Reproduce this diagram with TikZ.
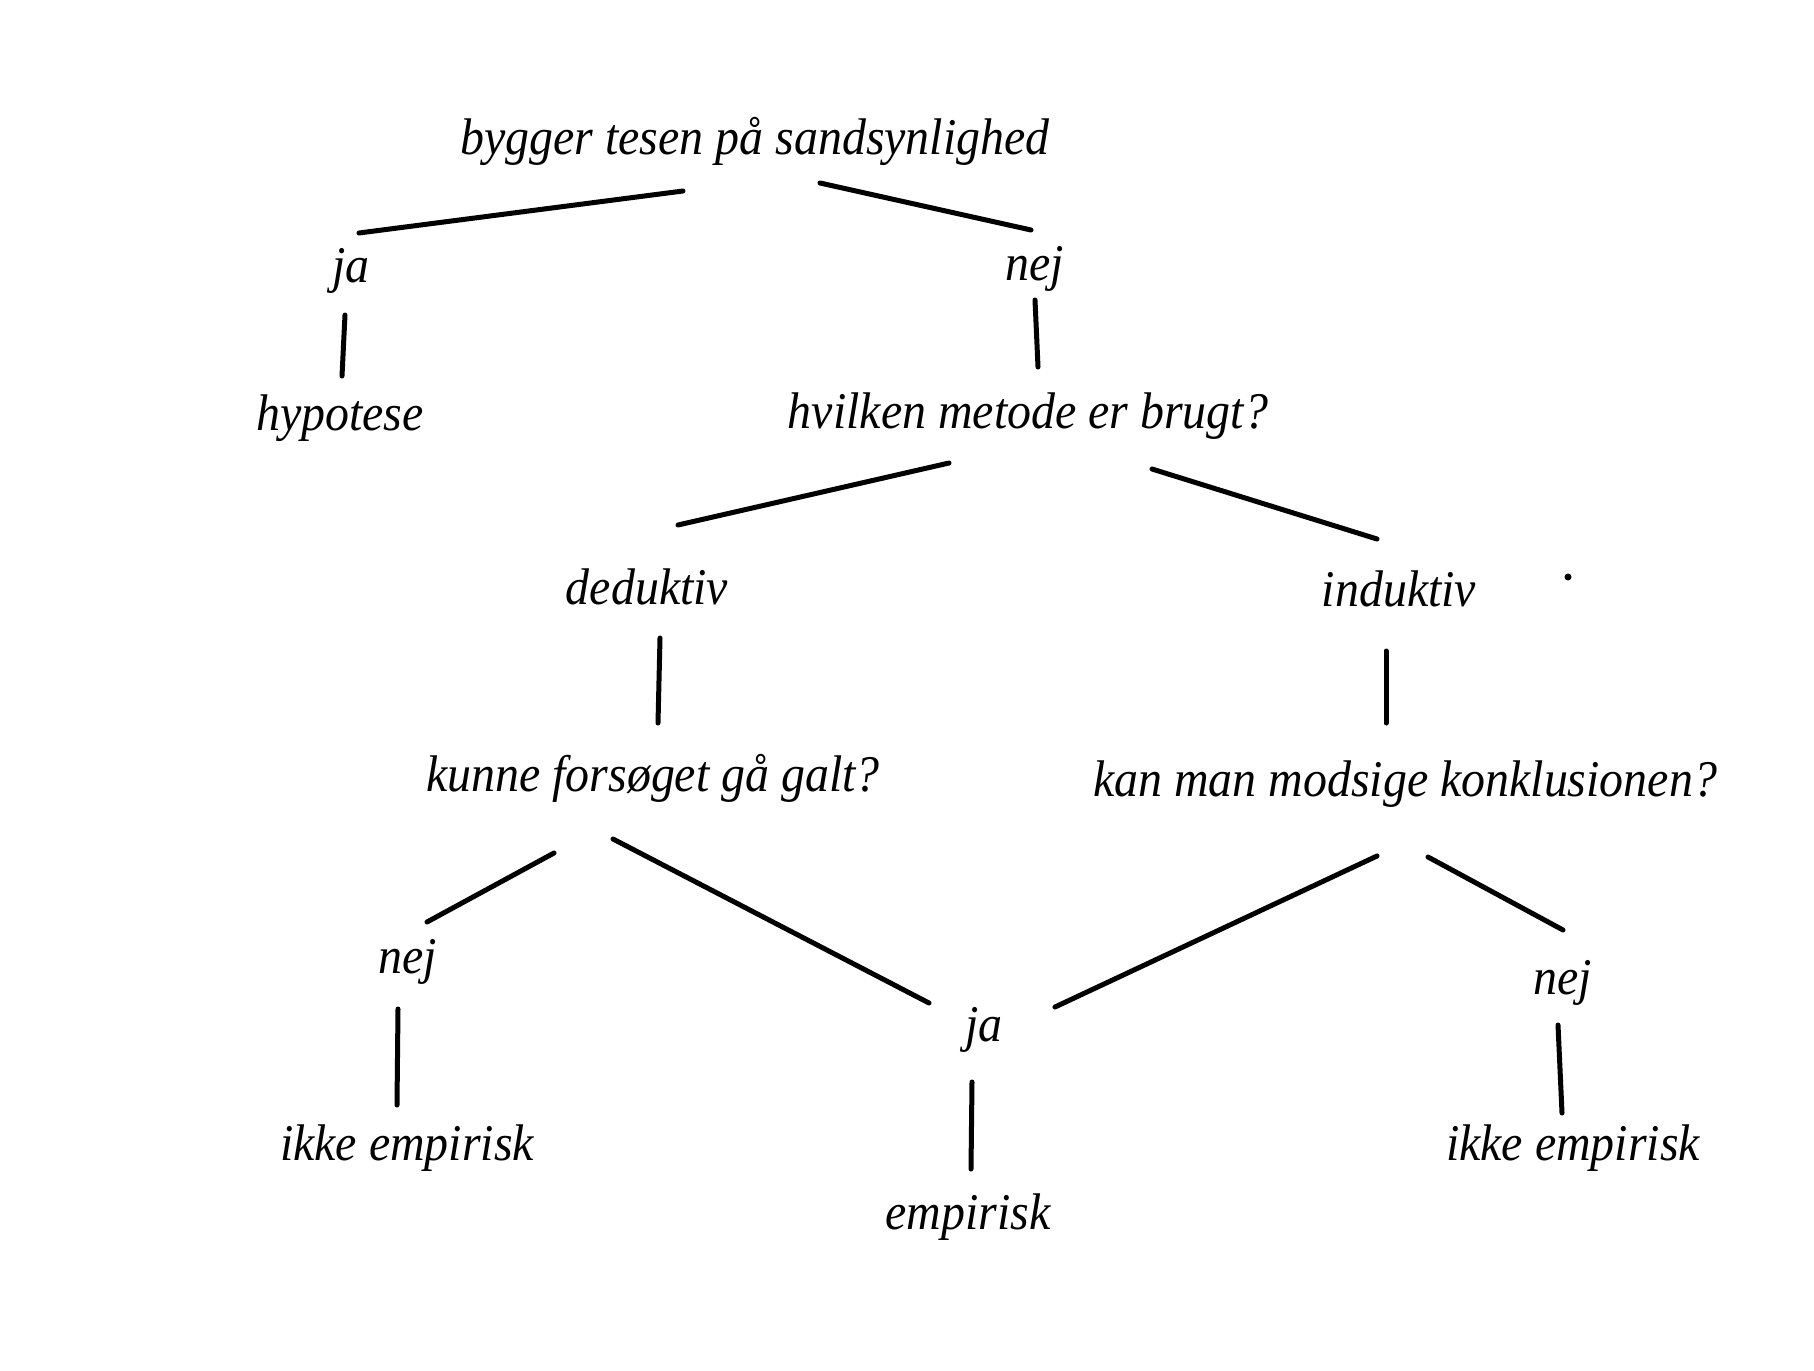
\documentclass[tikz,border=0pt]{standalone}
\usepackage{fontspec}
\setmainfont{Liberation Serif}[ItalicFeatures={FakeStretch=0.93}]
\begin{document}
\begin{tikzpicture}[x=1pt,y=-1pt,
  lbl/.style={anchor=base,inner sep=0pt,font=\fontsize{51.5}{60}\selectfont\itshape},
  br/.style={line width=5pt,line cap=round}]
\useasboundingbox (0,0) rectangle (1814,1370);
% texts
\node[lbl] (root) at (755,154) {bygger tesen på sandsynlighed};
\node[lbl] (ja1) at (351,282) {ja};
\node[lbl] (nej1) at (1035,280) {nej};
\node[lbl] (hyp) at (340,430) {hypotese};
\node[lbl] (metode) at (1028,428) {hvilken metode er brugt?};
\node[lbl] (ded) at (647,604) {deduktiv};
\node[lbl] (ind) at (1399,606) {induktiv};
\node[lbl] (kunne) at (653,791) {kunne forsøget gå galt?};
\node[lbl] (kan) at (1405,796) {kan man modsige konklusionen?};
\node[lbl] (nej2) at (408,973) {nej};
\node[lbl] (ja2) at (984,1041) {ja};
\node[lbl] (nej3) at (1563,994) {nej};
\node[lbl] (ikke1) at (407,1160) {ikke empirisk};
\node[lbl] (emp) at (968,1229) {empirisk};
\node[lbl] (ikke2) at (1573,1160) {ikke empirisk};
\fill (1568,577) circle (3.5);
% connector end points
\coordinate (a1) at (683,191);  \coordinate (b1) at (359,233);
\coordinate (a2) at (820,183);  \coordinate (b2) at (1031,230);
\coordinate (a3) at (345,315);  \coordinate (b3) at (342,376);
\coordinate (a4) at (1035,300); \coordinate (b4) at (1038,367);
\coordinate (a5) at (949,463);  \coordinate (b5) at (678,525);
\coordinate (a6) at (1152,469); \coordinate (b6) at (1377,539);
\coordinate (a7) at (660,638);  \coordinate (b7) at (658,723);
\coordinate (a8) at (1386,651); \coordinate (b8) at (1386,723);
\coordinate (a9) at (554,853);  \coordinate (b9) at (427,922);
\coordinate (a10) at (613,839); \coordinate (b10) at (929,1003);
\coordinate (a11) at (1377,856);\coordinate (b11) at (1055,1007);
\coordinate (a12) at (1428,857);\coordinate (b12) at (1563,930);
\coordinate (a13) at (398,1009);\coordinate (b13) at (397,1105);
\coordinate (a14) at (972,1082);\coordinate (b14) at (971,1169);
\coordinate (a15) at (1558,1025);\coordinate (b15) at (1562,1113);
\foreach \i in {1,...,15} {\draw[br] (a\i) -- (b\i);}
\end{tikzpicture}
\end{document}
